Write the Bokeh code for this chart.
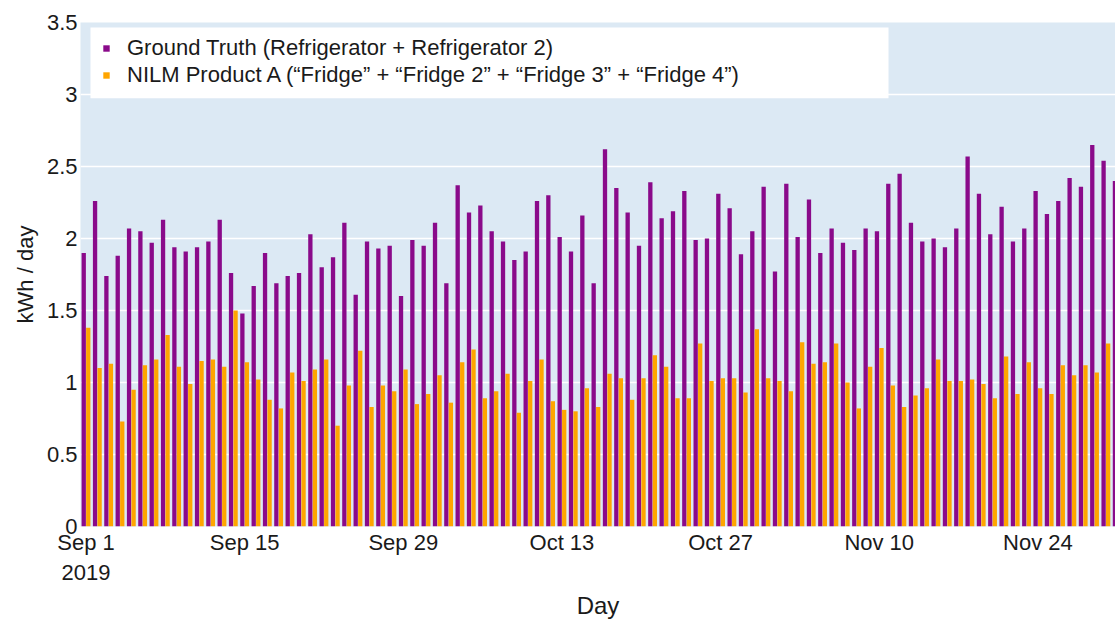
import numpy as np
import pandas as pd
from bokeh.plotting import figure
from bokeh.models import (ColumnDataSource, Range1d, FixedTicker, Legend, LegendItem,
                          NumeralTickFormatter, BoxAnnotation)
from bokeh.transform import dodge
from bokeh.embed import file_html
from bokeh.resources import INLINE

# ---------------- data ----------------
dates = pd.date_range("2019-09-01", "2019-12-01", freq="D")

ground_truth = [
    1.90, 2.26, 1.74, 1.88, 2.07, 2.05, 1.97, 2.13, 1.94, 1.91, 1.94, 1.98, 2.13, 1.76, 1.48, 1.67, 1.90, 1.69, 1.74, 1.76, 2.03, 1.80,
    1.87, 2.11, 1.61, 1.98, 1.93, 1.95, 1.60, 1.99, 1.95, 2.11, 1.69, 2.37, 2.18, 2.23, 2.05, 1.98, 1.85, 1.91, 2.26, 2.30, 2.01, 1.91,
    2.16, 1.69, 2.62, 2.35, 2.18, 1.95, 2.39, 2.14, 2.19, 2.33, 1.99, 2.00, 2.31, 2.21, 1.89, 2.05, 2.36, 1.77, 2.38, 2.01, 2.27, 1.90,
    2.07, 1.97, 1.92, 2.07, 2.05, 2.38, 2.45, 2.11, 1.98, 2.00, 1.94, 2.07, 2.57, 2.31, 2.03, 2.22, 1.98, 2.07, 2.33, 2.17, 2.26, 2.42,
    2.36, 2.65, 2.54, 2.40,
]

nilm_a = [
    1.38, 1.10, 1.13, 0.73, 0.95, 1.12, 1.16, 1.33, 1.11, 0.99, 1.15, 1.16, 1.11, 1.50, 1.14, 1.02, 0.88, 0.82, 1.07, 1.01, 1.09, 1.16,
    0.70, 0.98, 1.22, 0.83, 0.98, 0.94, 1.09, 0.85, 0.92, 1.05, 0.86, 1.14, 1.23, 0.89, 0.94, 1.06, 0.79, 1.01, 1.16, 0.87, 0.81, 0.80,
    0.96, 0.83, 1.06, 1.03, 0.88, 1.03, 1.19, 1.11, 0.89, 0.89, 1.27, 1.01, 1.03, 1.03, 0.93, 1.37, 1.03, 1.01, 0.94, 1.28, 1.13, 1.14,
    1.27, 1.00, 0.82, 1.11, 1.24, 0.98, 0.83, 0.91, 0.96, 1.16, 1.01, 1.01, 1.02, 0.99, 0.89, 1.18, 0.92, 1.14, 0.96, 0.92, 1.12, 1.05,
    1.12, 1.07, 1.27, float("nan"),
]

tick_dates = ["2019-09-01", "2019-09-15", "2019-09-29", "2019-10-13",
              "2019-10-27", "2019-11-10", "2019-11-24"]
tick_labels = ["Sep 1\n2019", "Sep 15", "Sep 29", "Oct 13", "Oct 27", "Nov 10", "Nov 24"]

y_ticks = [0, 0.5, 1, 1.5, 2, 2.5, 3, 3.5]

series_names = ["Ground Truth (Refrigerator + Refrigerator 2)",
                "NILM Product A (\u201cFridge\u201d + \u201cFridge 2\u201d + \u201cFridge 3\u201d + \u201cFridge 4\u201d)"]

# ---------------- layout ----------------
W, H = 1115, 621
BL, BR, BT, BB = 80, 0, 22, 94
X0, X1 = -0.485, 90.85
Y0, Y1 = 0.0, 3.5
frame_w, frame_h = W - BL - BR, H - BT - BB
px_day = frame_w / (X1 - X0)
px_unit = frame_h / (Y1 - Y0)

day = np.asarray((dates - dates[0]).days, dtype=float)
tick_days = [float((pd.Timestamp(d) - dates[0]).days) for d in tick_dates]

src = ColumnDataSource(dict(day=day, gt=np.array(ground_truth), nilm=np.array(nilm_a)))

FONT = "Liberation Sans"
TXT = "#1a1a1a"

p = figure(width=W, height=H,
           x_range=Range1d(X0, X1), y_range=Range1d(Y0, Y1),
           output_backend="svg", toolbar_location=None,
           min_border_left=BL, min_border_right=BR, min_border_top=BT, min_border_bottom=BB,
           background_fill_color="#dce9f4", border_fill_color="white",
           outline_line_color=None)

r1 = p.vbar(x=dodge("day", -0.2), top="gt", width=0.38, source=src,
            fill_color="#8a0a8a", line_color=None)
r2 = p.vbar(x=dodge("day", 0.2), top="nilm", width=0.38, source=src,
            fill_color="#ffa500", line_color=None)

p.xgrid.visible = False
p.ygrid.grid_line_color = "white"
p.ygrid.grid_line_width = 1.5

# x axis
xa = p.xaxis[0]
xa.ticker = FixedTicker(ticks=tick_days)
xa.major_label_overrides = {t: lab for t, lab in zip(tick_days, tick_labels)}
xa.axis_label = "Day"
xa.axis_line_color = None
xa.major_tick_line_color = None
xa.minor_tick_line_color = None
xa.major_tick_out = 0
xa.major_tick_in = 0
xa.minor_tick_out = 0
xa.major_label_standoff = 3
xa.axis_label_standoff = 4
xa.major_label_text_font = FONT
xa.major_label_text_font_size = "22px"
xa.major_label_text_color = TXT
xa.axis_label_text_font = FONT
xa.axis_label_text_font_size = "24px"
xa.axis_label_text_font_style = "normal"
xa.axis_label_text_color = TXT

# y axis
ya = p.yaxis[0]
ya.ticker = FixedTicker(ticks=y_ticks)
ya.formatter = NumeralTickFormatter(format="0.[0]")
ya.axis_label = "kWh / day"
ya.axis_line_color = None
ya.major_tick_line_color = None
ya.minor_tick_line_color = None
ya.major_tick_out = 0
ya.major_tick_in = 0
ya.minor_tick_out = 0
ya.major_label_standoff = 3
ya.axis_label_standoff = 6
ya.major_label_text_font = FONT
ya.major_label_text_font_size = "22px"
ya.major_label_text_color = TXT
ya.axis_label_text_font = FONT
ya.axis_label_text_font_size = "22px"
ya.axis_label_text_font_style = "normal"
ya.axis_label_text_color = TXT

# white legend backdrop (pixel offsets inside the frame converted to data units)
box = BoxAnnotation(left=X0 + 10 / px_day, right=X0 + 808 / px_day,
                    top=Y1 - 5 / px_unit, bottom=Y1 - 76 / px_unit,
                    fill_color="white", fill_alpha=1.0, line_color=None,
                    level="annotation")
p.add_layout(box)

legend = Legend(items=[LegendItem(label=series_names[0], renderers=[r1]),
                       LegendItem(label=series_names[1], renderers=[r2])],
                location=(22, 438), orientation="vertical",
                padding=0, spacing=1, margin=0,
                glyph_width=8, glyph_height=8, label_standoff=17,
                label_height=22,
                label_text_font=FONT, label_text_font_size="22px", label_text_color=TXT,
                background_fill_alpha=0.0,
                border_line_color=None)
p.add_layout(legend)

open("out.html", "w").write(file_html(p, INLINE))
